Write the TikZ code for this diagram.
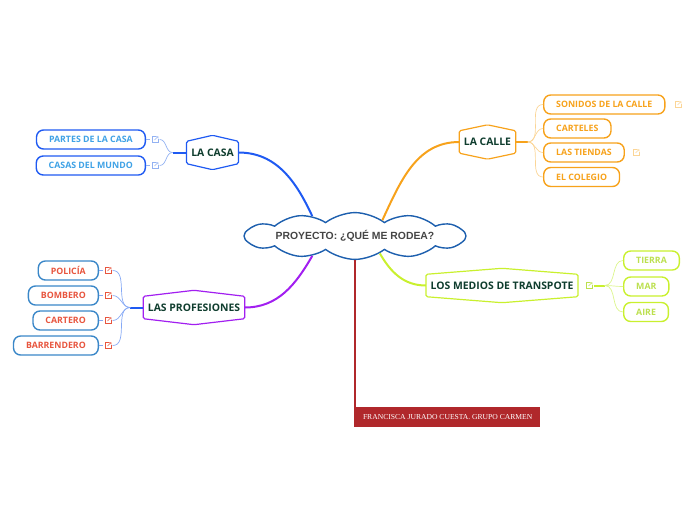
\documentclass[tikz,border=0pt]{standalone}
\usepackage{fontspec}
\setmainfont{Open Sans}
\newfontfamily\cloudfont{Liberation Sans}
\newfontfamily\authorfont{Liberation Serif}
\usetikzlibrary{positioning, shapes.symbols}

\definecolor{casablue}{HTML}{1F5AF2}
\definecolor{casalight}{HTML}{3FA2E6}
\definecolor{casafanc}{HTML}{93B2F2}
\definecolor{calleorange}{HTML}{F7A21B}
\definecolor{callelight}{HTML}{FBD596}
\definecolor{medioslime}{HTML}{C9F02E}
\definecolor{medioslight}{HTML}{BCE04E}
\definecolor{mediosfanc}{HTML}{DCF58C}
\definecolor{profpurple}{HTML}{A21FF0}
\definecolor{profboxblue}{HTML}{3A87C8}
\definecolor{profred}{HTML}{E8553E}
\definecolor{proffanc}{HTML}{86A9F5}
\definecolor{topicgreen}{HTML}{0F3D2E}
\definecolor{cloudblue}{HTML}{1D5FAE}
\definecolor{cloudtext}{HTML}{454545}
\definecolor{authorred}{HTML}{B0282B}

\tikzset{
  topic/.style={font=\bfseries\fontsize{10.4}{12}\selectfont, text=topicgreen,
    inner xsep=4.5pt, inner ysep=0pt, minimum height=22pt,
    append after command={\pgfextra{\draw[#1, line width=1.2pt, rounded corners=1.5pt]
      (\tikzlastnode.north west) -- ([yshift=6pt]\tikzlastnode.north) -- (\tikzlastnode.north east)
      -- (\tikzlastnode.south east) -- ([yshift=-6pt]\tikzlastnode.south) -- (\tikzlastnode.south west) -- cycle;}}},
  item/.style={rectangle, rounded corners=7pt, line width=1.4pt, fill=white,
    font=\bfseries\fontsize{8.8}{10}\selectfont, inner xsep=12.5pt, inner ysep=0pt, minimum height=19pt},
  casaitem/.style={item, draw=casablue, text=casalight, anchor=east},
  calleitem/.style={item, draw=calleorange, text=calleorange, anchor=west},
  mediositem/.style={item, draw=medioslime, text=medioslight, anchor=west},
  profitem/.style={item, draw=profboxblue, text=profred, anchor=east},
  linkicon/.style={minimum size=9pt, inner sep=0pt,
    path picture={
      \draw[#1, line width=0.5pt] ([shift={(0.5pt,3pt)}]path picture bounding box.center)
        -- ++(-3.5pt,0pt) -- ++(0pt,-6pt) -- ++(6pt,0pt) -- ++(0pt,3.5pt);
      \draw[#1, line width=0.5pt] ([shift={(-0.5pt,-0.5pt)}]path picture bounding box.center)
        -- ++(3.5pt,3.5pt) ++(-2.2pt,0pt) -- ++(2.2pt,0pt) -- ++(0pt,-2.2pt);}},
  cloudbox/.style={cloud, cloud puffs=12, cloud puff arc=75, aspect=8,
    draw=cloudblue, line width=1.4pt, fill=white, minimum width=222pt, minimum height=20pt,
    inner sep=0pt, font=\cloudfont\bfseries\fontsize{10.4}{12}\selectfont, text=cloudtext},
  author/.style={fill=authorred, text=white, font=\authorfont\fontsize{7.6}{9}\selectfont,
    minimum width=185pt, minimum height=20pt, inner sep=0pt},
  mainbranch/.style={line width=2pt},
  fan/.style={line width=0.7pt}
}

\begin{document}
\begin{tikzpicture}[x=1pt, y=-1pt]
  \useasboundingbox (0,0) rectangle (696,520);

  \node[cloudbox] (proj) at (355,236) {PROYECTO: ¿QUÉ ME RODEA?};
  \node[author, anchor=south west] (autora) at (355,427) {FRANCISCA JURADO CUESTA. GRUPO CARMEN};

  % la casa
  \node[topic=casablue] (casa) at (212.5,152.5) {LA CASA};
  \node[casaitem] (partes) at (146,139.5) {PARTES DE LA CASA};
  \node[casaitem] (mundo) at (146,165.5) {CASAS DEL MUNDO};
  \node[linkicon=casafanc] (ipartes) at (155,139.5) {};
  \node[linkicon=casafanc] (imundo) at (155,165.5) {};
  \coordinate[left=14pt of casa.west] (hcasa);

  % la calle
  \node[topic=calleorange] (calle) at (487.5,142) {LA CALLE};
  \node[calleitem] (sonidos) at (543,104.5) {SONIDOS DE LA CALLE};
  \node[calleitem] (carteles) at (543,128.5) {CARTELES};
  \node[calleitem] (tiendas) at (543,152.5) {LAS TIENDAS};
  \node[calleitem] (colegio) at (543,177) {EL COLEGIO};
  \node[linkicon=callelight] (isonidos) at (678,104.5) {};
  \node[linkicon=callelight] (itiendas) at (636,152.5) {};
  \coordinate[right=12pt of calle.east] (hcalle);

  % los medios
  \node[topic=medioslime] (medios) at (502,285.5) {LOS MEDIOS DE TRANSPOTE};
  \node[linkicon=medioslight] (imedios) at (589,285.5) {};
  \node[mediositem] (tierra) at (623,260.5) {TIERRA};
  \node[mediositem] (mar) at (623,286.5) {MAR};
  \node[mediositem] (aire) at (623,312) {AIRE};
  \coordinate[right=11pt of imedios.east] (hmedios);

  % las profesiones
  \node[topic=profpurple] (prof) at (194,307.5) {LAS PROFESIONES};
  \node[profitem] (policia) at (99,270.5) {POLICÍA};
  \node[profitem] (bombero) at (99,295.5) {BOMBERO};
  \node[profitem] (cartero) at (99,320.5) {CARTERO};
  \node[profitem] (barrendero) at (99,345.5) {BARRENDERO};
  \node[linkicon=profred] (ipolicia) at (108,270.5) {};
  \node[linkicon=profred] (ibombero) at (108,295.5) {};
  \node[linkicon=profred] (icartero) at (108,320.5) {};
  \node[linkicon=profred] (ibarrendero) at (108,345.5) {};
  \coordinate[left=13pt of prof.west] (hprof);

  % branches
  \draw[mainbranch, casablue] (casa.east) to[out=0, in=115] (proj.155);
  \draw[mainbranch, calleorange] (calle.west) to[out=180, in=65] (proj.30);
  \draw[mainbranch, medioslime] (proj.-35) to[out=-60, in=180] (medios.west);
  \draw[mainbranch, profpurple] (prof.east) to[out=0, in=240] (proj.205);
  \draw[mainbranch, authorred] (proj.south) -- (autora.south west);

  \draw[mainbranch, casablue] (casa.west) -- (hcasa);
  \draw[fan, casafanc] (hcasa) to[out=180, in=0] (ipartes.east);
  \draw[fan, casafanc] (hcasa) to[out=180, in=0] (imundo.east);
  \draw[fan, casafanc] (partes.east) -- (ipartes.west);
  \draw[fan, casafanc] (mundo.east) -- (imundo.west);

  \draw[mainbranch, calleorange] (calle.east) -- (hcalle);
  \draw[fan, callelight] (hcalle) to[out=0, in=180] (sonidos.west);
  \draw[fan, callelight] (hcalle) to[out=0, in=180] (carteles.west);
  \draw[fan, callelight] (hcalle) to[out=0, in=180] (tiendas.west);
  \draw[fan, callelight] (hcalle) to[out=0, in=180] (colegio.west);

  \draw[mainbranch, medioslime] (imedios.east) -- (hmedios);
  \draw[fan, mediosfanc] (hmedios) to[out=0, in=180] (tierra.west);
  \draw[fan, mediosfanc] (hmedios) to[out=0, in=180] (mar.west);
  \draw[fan, mediosfanc] (hmedios) to[out=0, in=180] (aire.west);

  \draw[mainbranch, casablue] (prof.west) -- (hprof);
  \draw[fan, proffanc] (hprof) to[out=180, in=0] (ipolicia.east);
  \draw[fan, proffanc] (hprof) to[out=180, in=0] (ibombero.east);
  \draw[fan, proffanc] (hprof) to[out=180, in=0] (icartero.east);
  \draw[fan, proffanc] (hprof) to[out=180, in=0] (ibarrendero.east);
  \draw[fan, proffanc] (policia.east) -- (ipolicia.west);
  \draw[fan, proffanc] (bombero.east) -- (ibombero.west);
  \draw[fan, proffanc] (cartero.east) -- (icartero.west);
  \draw[fan, proffanc] (barrendero.east) -- (ibarrendero.west);
\end{tikzpicture}
\end{document}
